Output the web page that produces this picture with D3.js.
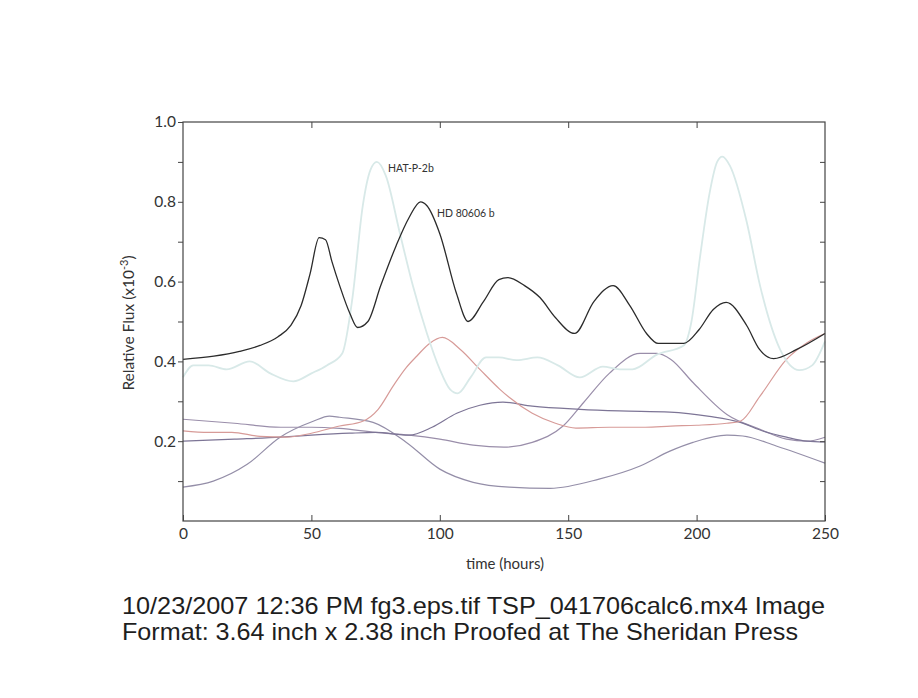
<!DOCTYPE html>
<html>
<head>
<meta charset="utf-8">
<script src="https://cdn.jsdelivr.net/npm/d3@7"></script>
<style>
  body { margin: 0; background: #fff; }
  #chart text { font-family: Lato, "Noto Sans", sans-serif; fill: #333; }
  #chart .caption { font-family: "Liberation Sans", Arial, sans-serif; fill: #1e1e1e; }
</style>
</head>
<body>
<div id="chart"></div>
<script>
// time (hours) and relative flux
const hdTime = [0, 12, 22, 30, 37, 42, 46, 49.5, 53, 55.5, 58, 61, 65, 68, 72, 77, 83, 88, 92.5, 95, 100, 106.5, 111, 117, 123, 126.5, 133, 139, 145, 152.5, 160, 167.5, 174, 180.5, 185, 195, 201, 206.5, 211.5, 219.5, 224.5, 230, 239, 250];
const hdFlux = [0.405, 0.413, 0.425, 0.44, 0.462, 0.49, 0.54, 0.62, 0.71, 0.705, 0.65, 0.59, 0.52, 0.485, 0.50, 0.59, 0.69, 0.76, 0.80, 0.79, 0.72, 0.57, 0.50, 0.55, 0.605, 0.61, 0.59, 0.56, 0.51, 0.47, 0.55, 0.59, 0.54, 0.47, 0.445, 0.445, 0.48, 0.53, 0.548, 0.49, 0.43, 0.407, 0.43, 0.47];

const hatTime = [0, 4, 10, 17, 26, 34, 43, 50, 56, 62, 66, 70, 73, 75.5, 79, 84.5, 89.5, 95, 100, 104, 107, 112, 118, 123, 130, 138, 146, 154.5, 163.5, 170, 175, 184.5, 195, 198, 201.3, 205, 208, 210, 213, 219.5, 224.7, 232.5, 240, 245, 250];
const hatFlux = [0.36, 0.39, 0.39, 0.38, 0.40, 0.37, 0.35, 0.37, 0.39, 0.42, 0.56, 0.79, 0.88, 0.90, 0.865, 0.72, 0.59, 0.47, 0.38, 0.33, 0.32, 0.36, 0.41, 0.41, 0.403, 0.41, 0.39, 0.36, 0.387, 0.38, 0.38, 0.417, 0.44, 0.50, 0.66, 0.82, 0.90, 0.913, 0.89, 0.75, 0.59, 0.43, 0.378, 0.39, 0.45];

const redTime = [0, 10, 19, 30, 40, 50, 61, 70, 76, 82, 87, 91, 96, 101, 108, 115.6, 123.4, 127, 136, 145, 153, 166, 180, 190, 200, 211.8, 217, 224.7, 235, 243, 250];
const redFlux = [0.226, 0.222, 0.222, 0.212, 0.21, 0.22, 0.238, 0.25, 0.28, 0.34, 0.385, 0.413, 0.445, 0.46, 0.43, 0.38, 0.33, 0.31, 0.27, 0.245, 0.233, 0.235, 0.235, 0.238, 0.24, 0.245, 0.25, 0.313, 0.405, 0.447, 0.47];

const aTime = [0, 20, 38, 50, 61, 75, 88, 100, 113, 125, 136, 148, 156, 166, 178, 184.5, 190, 198.6, 211.8, 224.7, 235, 243, 250];
const aFlux = [0.255, 0.245, 0.235, 0.235, 0.232, 0.222, 0.215, 0.205, 0.19, 0.185, 0.197, 0.238, 0.297, 0.37, 0.42, 0.42, 0.405, 0.347, 0.267, 0.23, 0.205, 0.20, 0.21];

const cTime = [0, 20, 38, 50, 65, 75, 88, 97, 106.6, 115.6, 124.6, 136, 154.6, 170, 189.6, 205, 217, 226, 235, 243, 250];
const cFlux = [0.20, 0.205, 0.21, 0.215, 0.22, 0.222, 0.215, 0.235, 0.27, 0.29, 0.298, 0.288, 0.28, 0.276, 0.273, 0.262, 0.247, 0.225, 0.21, 0.20, 0.198];

const bTime = [0, 11.8, 25, 37.8, 50.7, 57, 61, 74, 87, 100, 113, 127, 143, 162, 178, 189.6, 198.6, 211.8, 218, 231, 250];
const bFlux = [0.085, 0.10, 0.142, 0.21, 0.25, 0.263, 0.26, 0.247, 0.197, 0.13, 0.097, 0.085, 0.082, 0.105, 0.138, 0.175, 0.197, 0.215, 0.213, 0.188, 0.145];

const xTicks = [0, 50, 100, 150, 200, 250];
const yTicks = [0.1, 0.2, 0.3, 0.4, 0.5, 0.6, 0.7, 0.8, 0.9, 1.0];

const series = [
  {t: bTime, f: bFlux, color: "#948ea8", w: 1.2},
  {t: aTime, f: aFlux, color: "#9a8eaa", w: 1.2},
  {t: cTime, f: cFlux, color: "#7d7596", w: 1.2},
  {t: redTime, f: redFlux, color: "#d79b98", w: 1.2},
  {t: hatTime, f: hatFlux, color: "#d8e9e8", w: 1.8},
  {t: hdTime, f: hdFlux, color: "#2b2b2b", w: 1.3}
];

const width = 918, height = 698;
const svg = d3.select("#chart").append("svg")
  .attr("width", width)
  .attr("height", height);

const x = d3.scaleLinear().domain([0, 250]).range([183, 825]);
const y = d3.scaleLinear().domain([0, 1]).range([521, 122]);

const line = d3.line()
  .x(d => x(d[0]))
  .y(d => y(d[1]))
  .curve(d3.curveMonotoneX);

// curves
series.forEach(s => {
  svg.append("path")
    .datum(d3.zip(s.t, s.f))
    .attr("fill", "none")
    .attr("stroke", s.color)
    .attr("stroke-width", s.w)
    .attr("stroke-linejoin", "round")
    .attr("d", line);
});

// axes: bottom labelled, ticks pointing in
const xAxis = svg.append("g")
  .attr("transform", `translate(0,${y(0)})`)
  .call(d3.axisBottom(x).tickValues(xTicks).tickSize(-6).tickPadding(7).tickFormat(d3.format("d")));
xAxis.select(".domain").remove();
xAxis.selectAll("text").style("font-size", "15.5px");

svg.append("g")
  .attr("transform", `translate(0,${y(1)})`)
  .call(d3.axisTop(x).tickValues(xTicks.slice(1, -1)).tickSize(-6).tickFormat(""))
  .select(".domain").remove();

const yAxis = svg.append("g")
  .attr("transform", `translate(${x(0)},0)`)
  .call(d3.axisLeft(y).tickValues(yTicks).tickSize(5).tickPadding(2)
    .tickFormat(d => Math.round(d * 10) % 2 === 0 ? d3.format(".1f")(d) : ""));
yAxis.select(".domain").remove();
yAxis.selectAll("text").style("font-size", "15.5px");

svg.append("g")
  .attr("transform", `translate(${x(250)},0)`)
  .call(d3.axisRight(y).tickValues(yTicks.slice(0, -1)).tickSize(-5).tickFormat(""))
  .select(".domain").remove();

svg.selectAll(".tick line").attr("stroke", "#444");

// frame
svg.append("rect")
  .attr("x", x(0))
  .attr("y", y(1))
  .attr("width", x(250) - x(0))
  .attr("height", y(0) - y(1))
  .attr("fill", "none")
  .attr("stroke", "#444")
  .attr("stroke-width", 1.2);

// axis titles
svg.append("text")
  .attr("x", 505)
  .attr("y", 569)
  .attr("text-anchor", "middle")
  .style("font-size", "15px")
  .text("time (hours)");

const yTitle = svg.append("text")
  .attr("transform", `translate(134,323) rotate(-90)`)
  .attr("text-anchor", "middle")
  .style("font-size", "15.5px");
yTitle.append("tspan").text("Relative Flux (x10");
yTitle.append("tspan").attr("dy", -6).style("font-size", "11px").text("-3");
yTitle.append("tspan").attr("dy", 6).text(")");

// curve labels
svg.append("text")
  .attr("x", 388).attr("y", 172)
  .style("font-size", "10.5px")
  .text("HAT-P-2b");
svg.append("text")
  .attr("x", 437).attr("y", 217)
  .style("font-size", "10.5px")
  .text("HD 80606 b");

// proof caption under the figure
svg.append("text")
  .attr("class", "caption")
  .attr("x", 122).attr("y", 614)
  .attr("textLength", 703)
  .attr("lengthAdjust", "spacingAndGlyphs")
  .style("font-size", "24px")
  .text("10/23/2007 12:36 PM fg3.eps.tif TSP_041706calc6.mx4 Image");
svg.append("text")
  .attr("class", "caption")
  .attr("x", 122).attr("y", 640)
  .attr("textLength", 676)
  .attr("lengthAdjust", "spacingAndGlyphs")
  .style("font-size", "24px")
  .text("Format: 3.64 inch x 2.38 inch Proofed at The Sheridan Press");
</script>
</body>
</html>
